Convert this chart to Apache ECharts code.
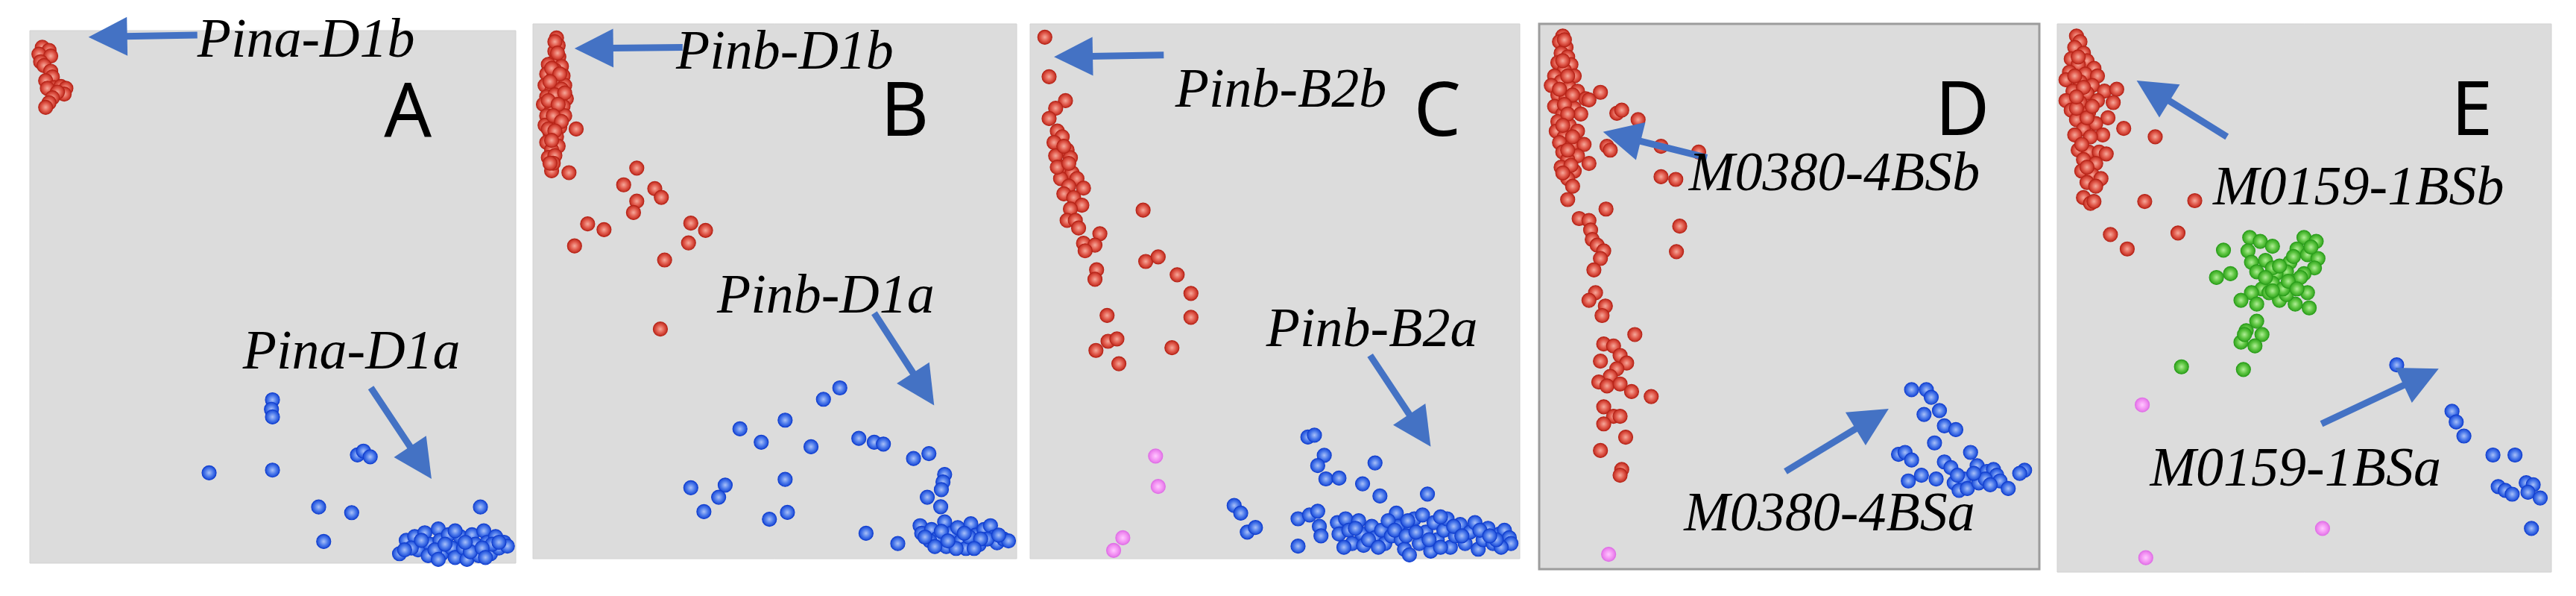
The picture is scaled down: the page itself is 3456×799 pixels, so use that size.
<!DOCTYPE html>
<html><head><meta charset="utf-8">
<script src="https://cdn.jsdelivr.net/npm/echarts/dist/echarts.min.js"></script>
<style>html,body{margin:0;padding:0;background:#fff;}#c{width:3456px;height:799px;}</style>
</head><body><div id="c"></div>
<script>
const panelNames = ['A','B','C','D','E'];
const markerLabels = [
  ['Pina-D1b','Pina-D1a'],
  ['Pinb-D1b','Pinb-D1a'],
  ['Pinb-B2b','Pinb-B2a'],
  ['M0380-4BSb','M0380-4BSa'],
  ['M0159-1BSb','M0159-1BSa']
];
// axis extents for each panel [xmin,xmax,ymin,ymax]
const extA=[88,1530,78,1480], extB=[33,1510,63,1472], extC=[27,1522,63,1470], extD=[33,1560,63,1497], extE=[85,1497,63,1505];

const A_red=[[125,122],[145,130],[115,140],[150,145],[120,160],[130,170],[150,185],[155,200],[135,210],[160,228],[140,230],[180,225],[195,230],[190,245],[170,240],[155,255],[145,268],[135,280]];
const A_blue=[[808,1050],[805,1075],[808,1095],[620,1242],[808,1235],[1060,1195],[1078,1185],[1098,1200],[945,1332],[1043,1347],[960,1423],[1425,1332],
 [1185,1455],[1205,1420],[1230,1410],[1240,1445],[1260,1400],[1275,1430],[1270,1460],[1300,1390],[1305,1420],[1310,1455],[1330,1405],[1340,1440],[1350,1465],[1365,1410],[1375,1440],[1385,1470],[1400,1405],[1410,1430],[1420,1460],[1435,1395],[1445,1425],[1455,1455],[1470,1410],[1480,1440],[1495,1425],[1505,1435],[1220,1440],[1290,1445],[1395,1450],[1460,1430],
 [1250,1420],[1320,1430],[1350,1395],[1430,1440],[1380,1425],[1480,1425],[1200,1445],[1300,1470],[1440,1465]];

const B_red=[[105,100],[110,120],[100,135],[112,150],[95,165],[80,170],[120,175],[100,185],[75,195],[125,200],[95,205],[110,220],[70,225],[130,225],[90,240],[115,245],[75,255],[135,260],[100,265],[65,275],[125,280],[90,290],[110,300],[75,305],[130,305],[95,320],[70,330],[115,335],[85,350],[105,360],[75,375],[110,385],[90,395],[80,415],[100,410],[90,450],[143,455],[165,340],
 [100,110],[108,140],[90,180],[115,195],[85,215],[120,235],[100,250],[130,245],[80,265],[110,275],[95,305],[120,320],[80,340],[100,345],[90,370],[95,430],[85,430],
 [350,443],[310,487],[405,497],[425,520],[350,530],[340,560],[200,590],[250,605],[160,648],[515,588],[560,607],[508,640],[435,685],[422,867]];
const B_blue=[[970,1022],[920,1052],[803,1107],[665,1130],[730,1165],[882,1177],[1028,1155],[1075,1165],[1103,1170],[1195,1208],[1242,1195],[1290,1250],[1285,1270],[1280,1290],[1237,1310],[1278,1335],[803,1263],[620,1278],[600,1310],[515,1285],[555,1348],[810,1350],[755,1368],[1050,1405],[1147,1432],
 [1215,1385],[1220,1405],[1250,1395],[1265,1420],[1290,1375],[1295,1440],[1310,1405],[1330,1390],[1340,1425],[1355,1445],[1370,1380],[1385,1410],[1395,1435],[1410,1395],[1430,1385],[1440,1415],[1450,1430],[1470,1420],[1485,1425],[1325,1445],[1280,1400],[1365,1415],[1420,1420],[1245,1425],
 [1260,1440],[1300,1425],[1350,1405],[1400,1420],[1455,1410],[1380,1445],[1230,1415]];

const C_red=[[72,98],[85,202],[135,265],[105,285],[85,312],[110,345],[125,360],[100,375],[140,395],[105,410],[150,415],[125,440],[155,455],[120,470],[170,470],[145,490],[190,495],[130,510],[160,520],[185,540],[150,550],[140,580],[165,580],[175,600],[240,615],[190,640],[225,645],[195,660],[230,710],[225,735],[262,830],[228,922],[265,898],[292,892],[298,957],[372,553],[380,688],[418,676],[476,723],[518,772],[518,835],[460,915],[110,440],[145,430],[130,385]];
const C_pink=[[410,1200],[418,1280],[310,1415],[282,1448]];
const C_blue=[[875,1150],[895,1145],[925,1198],[905,1225],[930,1260],[970,1258],[1080,1218],[1042,1273],[1095,1305],[1240,1300],[650,1330],[670,1350],[690,1400],[715,1388],[845,1365],[880,1355],[905,1345],[910,1385],[915,1410],[845,1437],
 [965,1375],[970,1405],[990,1365],[1000,1395],[1010,1430],[1030,1370],[1040,1405],[1045,1435],[1070,1385],[1080,1415],[1100,1395],[1110,1430],[1130,1410],[1145,1350],[1150,1385],[1160,1420],[1170,1445],[1185,1460],[1190,1395],[1200,1365],[1215,1430],[1225,1355],[1235,1400],[1250,1450],[1260,1375],[1270,1420],[1290,1395],[1300,1365],[1310,1440],[1325,1410],[1340,1380],[1355,1430],[1370,1400],[1385,1375],[1395,1445],[1410,1420],[1425,1390],[1440,1430],[1460,1405],[1475,1395],[1490,1415],[1495,1430],[1465,1440],[985,1440],[1120,1370],
 [1020,1390],[1060,1420],[1090,1440],[1140,1395],[1175,1410],[1205,1400],[1245,1420],[1280,1440],[1320,1385],[1345,1410],[1400,1395],[1450,1420],[1430,1410],[1280,1360],[1180,1370]];

const D_red=[[105,95],[95,110],[115,125],[100,140],[120,150],[90,165],[130,170],[110,185],[80,200],[140,200],[100,215],[70,225],[125,230],[150,240],[90,250],[115,260],[175,260],[80,280],[140,285],[105,300],[160,300],[90,320],[125,330],[85,345],[150,345],[110,360],[95,375],[135,380],[170,380],[105,400],[150,410],[120,420],[185,430],[100,440],[140,450],[120,470],[135,490],[120,525],[220,243],[185,263],
 [110,105],[105,160],[120,200],[95,235],[135,250],[110,275],[120,300],[105,330],[135,360],[120,395],[130,435],[105,455],
 [270,298],[285,290],[335,315],[240,385],[250,395],[405,385],[520,400],[405,465],[450,472],[462,595],[452,662],[237,550],
 [155,575],[185,580],[190,605],[195,630],[210,645],[230,660],[220,680],[200,710],[205,770],[185,790],[235,805],[225,830],[325,880],[230,905],[260,910],[280,935],[300,955],[220,950],[270,970],[250,990],[215,1005],[240,1015],[280,1010],[315,1030],[375,1043],[230,1070],[260,1095],[230,1115],[280,1095],[297,1150],[220,1185],[285,1235],[280,1250]];
const D_pink=[[245,1458]];
const D_blue=[[1170,1025],[1215,1025],[1230,1045],[1208,1090],[1255,1080],[1270,1120],[1305,1130],[1240,1165],[1130,1195],[1150,1190],[1170,1210],[1350,1190],[1270,1215],[1290,1230],[1370,1225],[1400,1240],[1420,1235],[1430,1250],[1515,1237],[1500,1245],[1160,1265],[1200,1250],[1245,1260],[1300,1270],[1330,1260],[1315,1290],[1340,1285],[1375,1270],[1395,1260],[1440,1265],[1465,1285],[1310,1250],[1360,1245],[1410,1275]];

const E_red=[[140,95],[150,110],[135,125],[160,140],[125,155],[170,160],[145,170],[190,180],[120,190],[165,195],[200,200],[110,210],[150,215],[185,225],[220,240],[255,235],[130,240],[170,245],[245,270],[110,265],[150,270],[200,265],[125,290],[175,295],[230,310],[140,315],[195,325],[160,340],[215,355],[135,355],[180,360],[145,395],[175,400],[205,400],[225,405],[160,420],[195,430],[155,450],[185,460],[210,470],[170,480],[195,490],[160,520],[180,535],[190,530],[275,338],[365,360],
 [145,150],[135,200],[160,230],[140,285],[170,310],[155,380],[170,440],[140,255],[185,280],
 [335,530],[478,528],[237,617],[285,655],[430,613]];
const E_green=[[560,658],[635,625],[665,635],[700,648],[630,660],[640,690],[680,685],[655,715],[540,730],[580,720],[790,625],[825,635],[770,655],[800,670],[830,680],[750,690],[820,705],[740,715],[710,720],[790,720],[760,740],[700,745],[670,760],[640,770],[610,790],[655,800],[720,790],[800,770],[765,800],[805,810],[740,775],[690,770],[655,845],[625,870],[670,880],[610,900],[650,910],[620,880],[440,965],[617,972],[700,705],[780,730],[730,760],[760,675],[810,650],
 [720,700],[745,740],[680,730],[770,760],[700,765]];
const E_pink=[[328,1065],[843,1390],[338,1467]];
const E_blue=[[1055,960],[1213,1082],[1225,1110],[1247,1147],[1330,1197],[1393,1197],[1345,1280],[1365,1290],[1385,1300],[1425,1270],[1445,1275],[1430,1295],[1465,1310],[1440,1390]];

// ---- Layout / annotations ----
const grids=[{left:40,top:41,width:652,height:714},{left:715,top:32,width:649,height:717},{left:1382,top:32,width:657,height:717},{left:2065,top:32,width:671,height:731},{left:2760,top:32,width:663,height:735}];
const exts=[extA,extB,extC,extD,extE];
const groups=[
  {red:A_red,blue:A_blue},
  {red:B_red,blue:B_blue},
  {red:C_red,blue:C_blue,pink:C_pink},
  {red:D_red,blue:D_blue,pink:D_pink},
  {red:E_red,green:E_green,blue:E_blue,pink:E_pink}
];
// arrows: [tail, tip] in panel units; labels: [left x, cap-centre y]; letter centre
const arrows=[
  [[[585,90],[262,95]],[[1100,1018],[1280,1258]]],
  [[[490,125],[160,128]],[[1075,825],[1258,1068]]],
  [[[435,145],[100,150]],[[1065,935],[1250,1175]]],
  [[[545,415],[228,347]],[[785,1240],[1100,1075]]],
  [[[570,360],[312,212]],[[840,1115],[1175,970]]]
];
const labelPos=[
  [[585,108],[720,930]],
  [[470,142],[595,785]],
  [[470,243],[748,872]],
  [[490,462],[475,1357]],
  [[530,500],[350,1240]]
];
const letterPos=[[1210,300],[1168,302],[1270,302],[1325,300],[1270,300]];

const styles={
  red:{c0:'#f6a89a',c1:'#e0584a',c2:'#b82418'},
  blue:{c0:'#a8c0f8',c1:'#4a78ea',c2:'#1240d0'},
  green:{c0:'#b0ee96',c1:'#5cc440',c2:'#2a9e1a'},
  pink:{c0:'#ffc8ff',c1:'#f495f4',c2:'#e070e6'}
};
function grad(s){return {type:'radial',x:0.5,y:0.5,r:0.5,colorStops:[{offset:0,color:s.c0},{offset:0.55,color:s.c1},{offset:1,color:s.c2}]};}

const option={animation:false,backgroundColor:'#ffffff',grid:[],xAxis:[],yAxis:[],series:[]};
grids.forEach((g,i)=>{
  const isD=i===3;
  option.grid.push(Object.assign({show:true,backgroundColor:'#dcdcdc',borderColor:isD?'#9c9c9c':'#d2d2d2',borderWidth:isD?3:1},g));
  const e=exts[i];
  option.xAxis.push({type:'value',gridIndex:i,min:e[0],max:e[1],show:false,splitLine:{show:false}});
  option.yAxis.push({type:'value',gridIndex:i,min:e[2],max:e[3],inverse:true,show:false,splitLine:{show:false}});
  ['red','green','blue','pink'].forEach(k=>{
    if(!groups[i][k]) return;
    option.series.push({type:'scatter',name:panelNames[i]+'-'+k,xAxisIndex:i,yAxisIndex:i,data:groups[i][k],symbolSize:19,silent:true,clip:false,
      itemStyle:{color:grad(styles[k]),borderColor:styles[k].c2,borderWidth:1.2,opacity:1}});
  });
});

const chart=echarts.init(document.getElementById('c'));
chart.setOption(option);

const blue='#4472c4';
const graphic=[];
for(let i=0;i<5;i++){
  arrows[i].forEach(a=>{
    const t=chart.convertToPixel({gridIndex:i},a[0]);
    const p=chart.convertToPixel({gridIndex:i},a[1]);
    const dx=p[0]-t[0],dy=p[1]-t[1],L=Math.hypot(dx,dy),ux=dx/L,uy=dy/L;
    const HL=52,HW=26;
    const bx=p[0]-ux*HL,by=p[1]-uy*HL;
    graphic.push({type:'line',z:50,shape:{x1:t[0],y1:t[1],x2:bx+ux*4,y2:by+uy*4},style:{stroke:blue,lineWidth:9}});
    graphic.push({type:'polygon',z:51,shape:{points:[[p[0],p[1]],[bx-uy*HW,by+ux*HW],[bx+uy*HW,by-ux*HW]]},style:{fill:blue}});
  });
  labelPos[i].forEach((lp,j)=>{
    const q=chart.convertToPixel({gridIndex:i},lp);
    graphic.push({type:'text',z:60,x:q[0],y:q[1],style:{text:markerLabels[i][j],fontStyle:'italic',fontSize:74,fontFamily:'Liberation Serif',fill:'#000',align:'left',verticalAlign:'middle'}});
  });
  const lq=chart.convertToPixel({gridIndex:i},letterPos[i]);
  graphic.push({type:'text',z:60,x:lq[0],y:lq[1],style:{text:panelNames[i],fontSize:100,fontFamily:'Noto Sans',fill:'#000',align:'center',verticalAlign:'middle'}});
}
chart.setOption({graphic:graphic});
</script>
</body></html>
